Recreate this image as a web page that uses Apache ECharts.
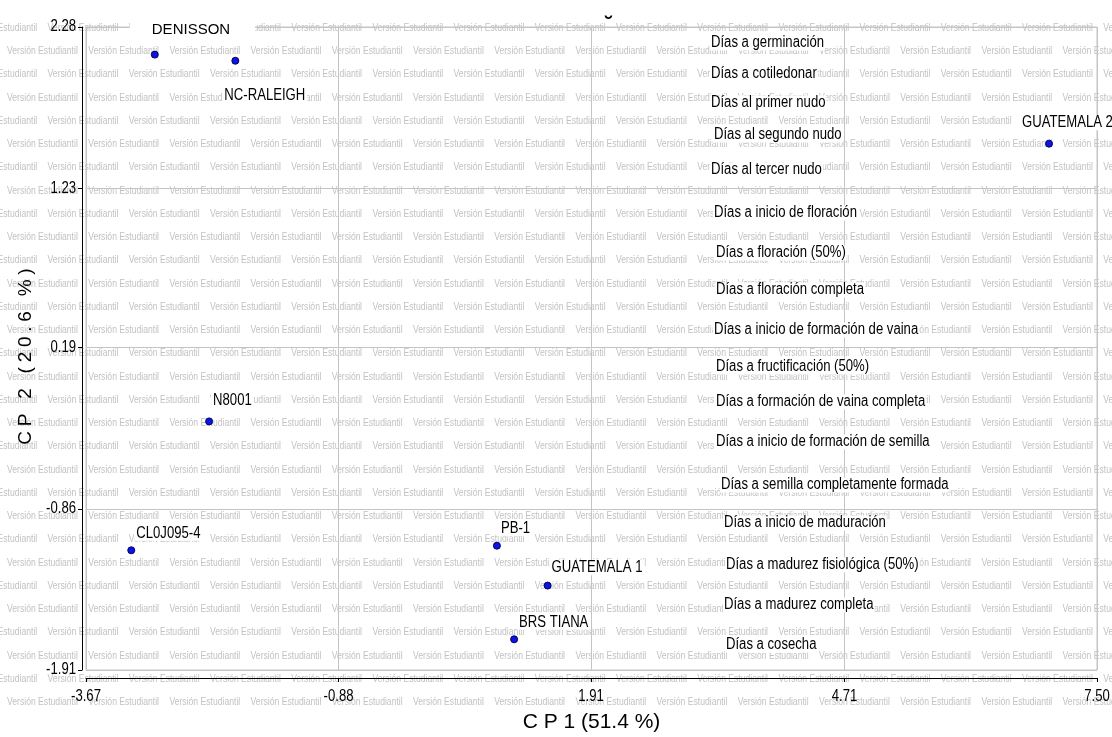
<!DOCTYPE html>
<html>
<head>
<meta charset="utf-8">
<script src="https://cdn.jsdelivr.net/npm/echarts@6/dist/echarts.min.js"></script>
<style>
  html, body { margin: 0; padding: 0; background: #fff; }
  #chart { width: 1112px; height: 737px; }
</style>
</head>
<body>
<div id="chart"></div>
<script>
// Genotype scores on the first two principal components
const genotypes = ['DENISSON', 'NC-RALEIGH', 'GUATEMALA 2', 'N8001', 'CL0J095-4', 'PB-1', 'GUATEMALA 1', 'BRS TIANA'];
const cp1 = [-2.91, -2.02, 6.97, -2.31, -3.17, 0.87, 1.43, 1.06];
const cp2 = [2.10, 2.06, 1.52, -0.29, -1.13, -1.10, -1.36, -1.71];

// Axis tick values
const xTicks = [-3.67, -0.88, 1.91, 4.71, 7.50];
const yTicks = [-1.91, -0.86, 0.19, 1.23, 2.28];

// Variables listed in the plot
const variables = [
  'Días a germinación',
  'Días a cotiledonar',
  'Días al primer nudo',
  'Días al segundo nudo',
  'Días al tercer nudo',
  'Días a inicio de floración',
  'Días a floración (50%)',
  'Días a floración completa',
  'Días a inicio de formación de vaina',
  'Días a fructificación (50%)',
  'Días a formación de vaina completa',
  'Días a inicio de formación de semilla',
  'Días a semilla completamente formada',
  'Días a inicio de maduración',
  'Días a madurez fisiológica (50%)',
  'Días a madurez completa',
  'Días a cosecha'
];

// Layout: where each variable caption sits (pixels, left / middle)
const variablePos = [
  [710, 43], [710, 74], [710, 103], [713, 135], [710, 170],
  [713, 213], [715, 253], [715, 290], [713, 330], [715, 367],
  [715, 402], [715, 442], [720, 485], [723, 523], [725, 565],
  [723, 605], [725, 645]
];

// Label offsets from each point (pixels)
const labelOffset = {
  'DENISSON': [-25, -25],
  'NC-RALEIGH': [-13, 35],
  'GUATEMALA 2': [-29, -21],
  'N8001': [2, -21],
  'CL0J095-4': [3, -17],
  'PB-1': [2, -17],
  'GUATEMALA 1': [2, -18],
  'BRS TIANA': [3, -17]
};

// Narrow face: no condensed Arial is installed, so text set in a
// family whose name contains "Narrow" is drawn horizontally condensed.
const NARROW_SCALE = 0.82;
(function () {
  const proto = CanvasRenderingContext2D.prototype;
  const fill = proto.fillText, measure = proto.measureText;
  const isNarrow = ctx => ctx.font.indexOf('Narrow') >= 0;
  proto.fillText = function (t, x, y) {
    if (!isNarrow(this)) return fill.apply(this, arguments);
    this.save();
    this.translate(x, y);
    this.scale(NARROW_SCALE, 1);
    fill.call(this, t, 0, 0);
    this.restore();
  };
  proto.measureText = function (t) {
    const m = measure.call(this, t);
    if (!isNarrow(this)) return m;
    return {
      width: m.width * NARROW_SCALE,
      actualBoundingBoxLeft: m.actualBoundingBoxLeft * NARROW_SCALE,
      actualBoundingBoxRight: m.actualBoundingBoxRight * NARROW_SCALE,
      actualBoundingBoxAscent: m.actualBoundingBoxAscent,
      actualBoundingBoxDescent: m.actualBoundingBoxDescent,
      fontBoundingBoxAscent: m.fontBoundingBoxAscent,
      fontBoundingBoxDescent: m.fontBoundingBoxDescent
    };
  };
})();

const NARROW = '"Liberation Sans Narrow", "Liberation Sans", Arial, sans-serif';
const REGULAR = '"Liberation Sans", Arial, sans-serif';
const GRID_GRAY = '#c4c4c4';

// Background watermark pattern
const watermark = [];
const wmText = 'Versión Estudiantil';
for (let r = 0; r < 30; r++) {
  const y = 28 + r * 23.25;
  let x = (r % 2 === 0) ? 7 - 40.6 : 7;
  for (; x < 1112; x += 81.2) {
    watermark.push({
      type: 'text',
      x: x, y: y, z: -10, silent: true,
      style: {
        text: wmText, fill: '#c2c2c2',
        font: '10.5px ' + NARROW,
        textVerticalAlign: 'middle', textAlign: 'left'
      }
    });
  }
}

const variableTexts = variables.map((v, i) => ({
  type: 'text',
  x: variablePos[i][0], y: variablePos[i][1], z: 10,
  style: {
    text: v, fill: '#000',
    font: '16px ' + NARROW,
    textVerticalAlign: 'middle', textAlign: 'left',
    backgroundColor: '#fff', padding: [1, 1]
  }
}));

const points = genotypes.map((g, i) => {
  const isDen = g === 'DENISSON';
  return {
    name: g,
    value: [cp1[i], cp2[i]],
    label: {
      offset: labelOffset[g],
      fontFamily: isDen ? REGULAR : NARROW,
      fontSize: isDen ? 15 : 16,
      padding: isDen ? [4, 25, 4, 22] : [1, 2]
    }
  };
});

// Letter-spaced vertical axis title
const spaced = s => s.split('').join('\u2005');

const chart = echarts.init(document.getElementById('chart'), null, { renderer: 'canvas' });
chart.setOption({
  animation: false,
  backgroundColor: '#fff',
  grid: {
    left: 86, right: 15, top: 27, bottom: 67,
    show: true, borderColor: GRID_GRAY, borderWidth: 1,
    outerBoundsMode: 'none'
  },
  xAxis: {
    type: 'value', min: -3.67, max: 7.50, offset: 8,
    axisLine: { onZero: false, lineStyle: { color: '#000', width: 1 } },
    axisTick: { customValues: xTicks, length: 4, lineStyle: { color: '#000' } },
    axisLabel: {
      customValues: xTicks, formatter: v => v.toFixed(2),
      fontFamily: NARROW, fontSize: 16, color: '#000', margin: 12
    },
    splitLine: { show: true, lineStyle: { color: GRID_GRAY, width: 1 } },
    name: 'C P 1 (51.4 %)', nameLocation: 'middle', nameGap: 34,
    nameTextStyle: { fontFamily: REGULAR, fontSize: 21, color: '#000' }
  },
  yAxis: {
    type: 'value', min: -1.91, max: 2.28, offset: 4,
    axisLine: { onZero: false, lineStyle: { color: '#000', width: 1 } },
    axisTick: { customValues: yTicks, length: 4, lineStyle: { color: '#000' } },
    axisLabel: {
      customValues: yTicks, formatter: v => v.toFixed(2),
      fontFamily: NARROW, fontSize: 16, color: '#000', margin: 6
    },
    splitLine: { show: true, lineStyle: { color: GRID_GRAY, width: 1 } },
    name: spaced('CP 2 (20.6 %)'),
    nameLocation: 'middle', nameGap: 45, nameRotate: 90,
    nameTextStyle: { fontFamily: REGULAR, fontSize: 19, color: '#000', padding: [0, 16, 0, 0] }
  },
  graphic: {
    elements: [
      ...watermark,
      ...variableTexts,
      {
        type: 'text', x: 609, y: 26, z: 10,
        style: { text: '˘', fill: '#000', font: 'bold 22px ' + REGULAR, textAlign: 'center', textVerticalAlign: 'middle' }
      }
    ]
  },
  series: [{
    type: 'scatter',
    symbol: 'circle',
    symbolSize: 7,
    itemStyle: { color: '#0a14e6', borderColor: '#00005a', borderWidth: 1, opacity: 1 },
    label: {
      show: true,
      position: 'inside',
      formatter: p => p.name,
      color: '#000',
      opacity: 1,
      textBorderWidth: 0,
      textBorderColor: 'transparent',
      align: 'left',
      verticalAlign: 'middle',
      backgroundColor: '#fff'
    },
    data: points,
    z: 5
  }]
});
</script>
</body>
</html>
